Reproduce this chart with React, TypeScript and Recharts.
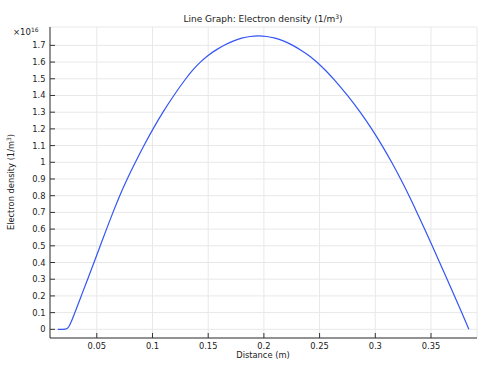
import React from "react";
import { LineChart, Line, XAxis, YAxis, CartesianGrid } from "recharts";

const distance = [0.015, 0.0225, 0.0245, 0.027, 0.0303, 0.0361, 0.0418, 0.0475, 0.0531, 0.0587, 0.0645, 0.0705, 0.0772, 0.0846, 0.0923, 0.1004, 0.1093, 0.119, 0.1297, 0.1365, 0.1432, 0.15, 0.158, 0.1657, 0.173, 0.18, 0.1875, 0.195, 0.2025, 0.21, 0.2175, 0.2245, 0.235, 0.2415, 0.248, 0.2555, 0.2625, 0.2752, 0.2866, 0.2969, 0.3062, 0.3148, 0.3228, 0.3304, 0.3374, 0.3443, 0.3511, 0.3578, 0.3645, 0.3711, 0.3776, 0.384];
const density = [0, 0, 0.008, 0.043, 0.1, 0.2, 0.3, 0.4, 0.5, 0.6, 0.7, 0.8, 0.9, 1.0, 1.1, 1.2, 1.3, 1.4, 1.5, 1.556, 1.602, 1.642, 1.677, 1.706, 1.728, 1.744, 1.754, 1.758, 1.754, 1.744, 1.728, 1.706, 1.665, 1.635, 1.598, 1.55, 1.5, 1.4, 1.3, 1.2, 1.1, 1.0, 0.9, 0.8, 0.7, 0.6, 0.5, 0.4, 0.3, 0.2, 0.1, 0];

const xTicks = [0.05, 0.1, 0.15, 0.2, 0.25, 0.3, 0.35];
const yTicks = [0, 0.1, 0.2, 0.3, 0.4, 0.5, 0.6, 0.7, 0.8, 0.9, 1, 1.1, 1.2, 1.3, 1.4, 1.5, 1.6, 1.7];

const data = distance.map((d, i) => ({ x: d, y: density[i] }));

const FONT = "'DejaVu Sans', sans-serif";
const AX = "#333";
const TXT = "#222";

const fmt = (v: number, d: number) => String(Number(v.toFixed(d)));

const BottomTick = (p: any) => (
  <g>
    <line x1={p.x} x2={p.x} y1={p.y} y2={p.y - 5} stroke={AX} />
    <text x={p.x} y={p.y + 11} textAnchor="middle" fontSize={8.3} fontFamily={FONT} fill={TXT}>
      {fmt(p.payload.value, 2)}
    </text>
  </g>
);
const TopTick = (p: any) => (
  <line x1={p.x} x2={p.x} y1={p.y} y2={p.y + 5} stroke={AX} />
);
const LeftTick = (p: any) => (
  <g>
    <line x1={p.x} x2={p.x + 5} y1={p.y} y2={p.y} stroke={AX} />
    <text x={p.x - 4.5} y={p.y + 3} textAnchor="end" fontSize={8.3} fontFamily={FONT} fill={TXT}>
      {fmt(p.payload.value, 1)}
    </text>
  </g>
);
const RightTick = (p: any) => (
  <line x1={p.x} x2={p.x - 5} y1={p.y} y2={p.y} stroke={AX} />
);

export default function App() {
  return (
    <div style={{ position: "absolute", left: 0, top: 0, width: 488, height: 365, background: "#fff" }}>
      <LineChart width={488} height={365} data={data} margin={{ top: 27, right: 11, bottom: 0, left: 0 }}>
        <CartesianGrid xAxisId="b" yAxisId="l" stroke="#e8e8e8" />
        <XAxis xAxisId="b" dataKey="x" type="number" domain={[0.008, 0.3913]} ticks={xTicks} orientation="bottom" height={27}
          tickSize={0} tickMargin={0} tick={<BottomTick />} stroke={AX} allowDataOverflow interval={0} />
        <XAxis xAxisId="t" dataKey="x" type="number" domain={[0.008, 0.3913]} ticks={xTicks} orientation="top" height={0}
          tickSize={0} tickMargin={0} tick={<TopTick />} stroke={AX} allowDataOverflow interval={0} />
        <YAxis yAxisId="l" type="number" domain={[-0.052, 1.81]} ticks={yTicks} orientation="left" width={50}
          tickSize={0} tickMargin={0} tick={<LeftTick />} stroke={AX} allowDataOverflow interval={0} />
        <YAxis yAxisId="r" type="number" domain={[-0.052, 1.81]} ticks={yTicks} orientation="right" width={0}
          tickSize={0} tickMargin={0} tick={<RightTick />} stroke={AX} allowDataOverflow interval={0} />
        <Line xAxisId="b" yAxisId="l" dataKey="y" type="basis" stroke="#3355f5" strokeWidth={1.2} dot={false} isAnimationActive={false} />
      </LineChart>
      <svg width={488} height={365} style={{ position: "absolute", left: 0, top: 0, pointerEvents: "none" }}>
        <text x={263} y={22} textAnchor="middle" fontSize={9} fontFamily={FONT} fill={TXT}>
          Line Graph: Electron density (1/m<tspan dy={-3.5} fontSize={6}>3</tspan><tspan dy={3.5}>)</tspan>
        </text>
        <text x={13} y={35} fontSize={8.5} fontFamily={FONT} fill={TXT}>
          ×10<tspan dy={-3.5} fontSize={6}>16</tspan>
        </text>
        <text x={263} y={358} textAnchor="middle" fontSize={8.3} fontFamily={FONT} fill={TXT}>Distance (m)</text>
        <text transform="translate(14,182) rotate(-90)" textAnchor="middle" fontSize={8.3} fontFamily={FONT} fill={TXT}>
          Electron density (1/m<tspan dy={-3.5} fontSize={6}>3</tspan><tspan dy={3.5}>)</tspan>
        </text>
      </svg>
    </div>
  );
}
